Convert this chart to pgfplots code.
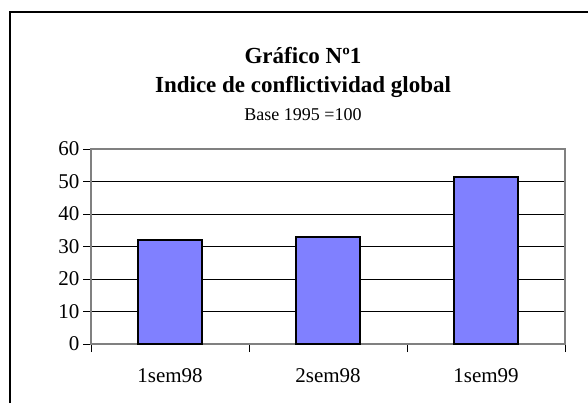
\documentclass[border=0pt]{standalone}
\usepackage{pgfplots}
\pgfplotsset{compat=1.18}
\usepackage{fontspec}
\setmainfont{Liberation Serif}
\definecolor{barblue}{HTML}{8080FF}
\definecolor{framegray}{HTML}{808080}
\begin{document}
\begin{tikzpicture}[x=1bp,y=1bp]
\useasboundingbox (0,0) rectangle (588,403);
\fill[white] (0,0) rectangle (588,403);
\draw[line width=2bp] (10,0) -- (10,391) -- (588,391);
\begin{axis}[
  at={(91bp,59bp)}, anchor=south west,
  scale only axis, width=474bp, height=195bp,
  xmin=0, xmax=3, ymin=0, ymax=60,
  ytick={0,10,...,60},
  xtick={0,1,2,3}, xticklabels={},
  extra x ticks={0.5,1.5,2.5},
  extra x tick labels={1sem98,2sem98,1sem99},
  extra x tick style={major tick length=0pt, tick style={draw=none},
    xticklabel style={anchor=north, inner sep=0pt, yshift=-24bp}},
  tick align=outside, major tick length=8bp,
  xtick pos=bottom, ytick pos=left,
  tick style={black, line width=0.8bp},
  ymajorgrids, grid style={black, line width=0.8bp},
  axis line style={framegray, line width=2bp},
  /pgf/number format/assume math mode=true,
  tick label style={font=\fontsize{21bp}{25bp}\selectfont},
  ybar, bar width=64bp,
]
\addplot[fill=barblue, draw=black, line width=2bp] coordinates {(0.5,32) (1.5,33) (2.5,51.5)};
\end{axis}
\node[font=\fontsize{23bp}{27bp}\selectfont\bfseries, anchor=base] at (303,340) {Gráfico Nº1};
\node[font=\fontsize{23bp}{27bp}\selectfont\bfseries, anchor=base] at (303,311) {Indice de conflictividad global};
\node[font=\fontsize{18bp}{22bp}\selectfont, anchor=base] at (303,283) {Base 1995 =100};
\end{tikzpicture}
\end{document}
